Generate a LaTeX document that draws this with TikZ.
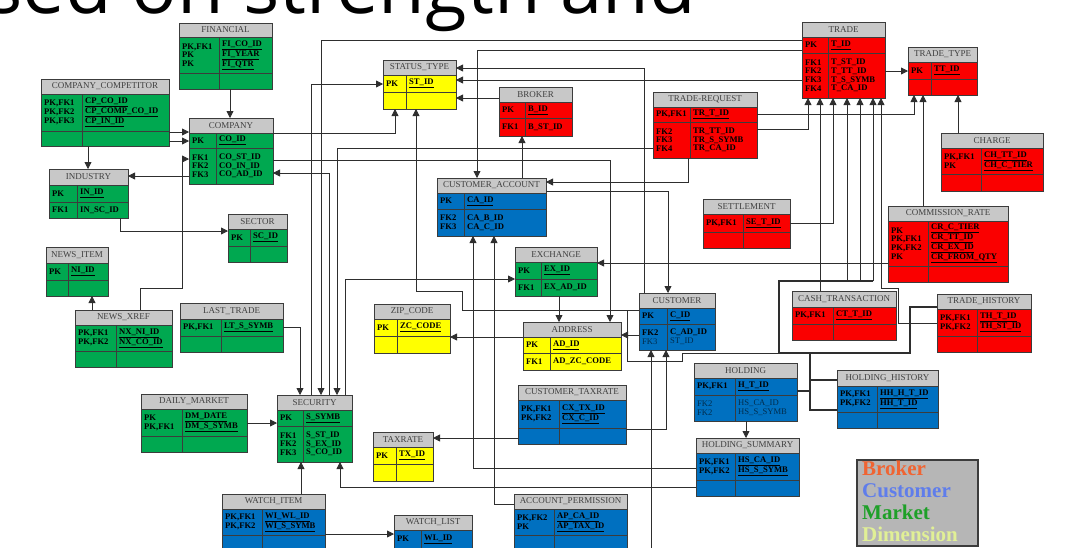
\documentclass[tikz,border=0pt]{standalone}
\usepackage{fontspec}
\setmainfont{Liberation Serif}
\newfontfamily\titlefont{Open Sans}
\usepackage{tikz}
\usetikzlibrary{calc,fit,arrows.meta}

\definecolor{market}{RGB}{0,168,80}
\definecolor{customer}{RGB}{0,112,192}
\definecolor{broker}{RGB}{250,0,0}
\definecolor{dimension}{RGB}{255,255,0}
\definecolor{headgray}{RGB}{200,200,200}
\definecolor{edgegray}{RGB}{60,60,60}
\definecolor{headtxt}{RGB}{64,64,64}
\definecolor{legendgray}{RGB}{182,182,182}
\definecolor{lbroker}{RGB}{240,100,50}
\definecolor{lcustomer}{RGB}{95,125,235}
\definecolor{lmarket}{RGB}{30,160,40}
\definecolor{ldimension}{RGB}{225,240,150}

\tikzset{
	tblbody/.style={inner sep=0pt, outer sep=0pt},
	tblline/.style={draw=edgegray, line width=0.9pt},
	headtext/.style={font=\fontsize{9}{9}\selectfont, text=headtxt, inner sep=0pt},
	keytext/.style={font=\bfseries\fontsize{8.6}{8.7}\selectfont, align=left, anchor=west, inner sep=0pt},
	lightkey/.style={font=\fontsize{8.6}{8.7}\selectfont, text=customer!40!black},
	rel/.style={draw=black!82, line width=0.8pt, -{Triangle[length=7pt,width=7pt]}},
	link/.style={draw=black!82, line width=0.8pt},
	ring/.style={draw=black!82, line width=1.6pt},
}

% name, colour, title, top left, bottom right, title bottom, separator, column
\newcommand{\ertable}[8]{%
	\node[tblbody, fill=#2, fit={#4 #5}] (#1) {};
	\fill[headgray] (#1.north west) rectangle (#1.east |- 0,#6);
	\node[headtext] (#1-title) at ($(#1.north)!0.5!(#1.north |- 0,#6)$) {#3};
	\draw[tblline] (#1.west |- 0,#6) -- (#1.east |- 0,#6);
	\draw[tblline] (#1.west |- 0,#7) -- (#1.east |- 0,#7);
	\draw[tblline] (#8,#6) -- (#1.south -| #8,0);
	\draw[tblline] (#1.north west) rectangle (#1.south east);
	\coordinate (#1-pk) at ($(#8,#6)!0.5!(#8,#7)$);
	\coordinate (#1-fk) at ($(#8,#7)!0.5!(#1.south -| #8,0)$);
}
\newcommand{\erkeys}[5][]{%
	\node[keytext, xshift=3pt, #1] at (#2.west |- #2-#3) {#4};
	\node[keytext, xshift=3pt, #1] at (#2-#3) {#5};
}
\newcommand{\ukey}[1]{\underline{#1}}

\begin{document}
\begin{tikzpicture}[x=1pt,y=-1pt]
	\useasboundingbox (0,0) rectangle (1070,547);
	\clip (0,0) rectangle (1070,547);

	\node[anchor=base west, inner sep=0pt, font=\titlefont\fontsize{76}{76}\selectfont] (headline) at (-14,13) {sed on strength and};

	\ertable{financial}{market}{FINANCIAL}{(179,23)}{(272,89)}{37}{73}{219}
	\erkeys{financial}{pk}{PK,FK1\\PK\\PK}{\ukey{FI\_CO\_ID}\\\ukey{FI\_YEAR}\\\ukey{FI\_QTR}}
	\ertable{compcomp}{market}{COMPANY\_COMPETITOR}{(41,79)}{(169,146)}{94}{131}{82}
	\erkeys{compcomp}{pk}{PK,FK1\\PK,FK2\\PK,FK3}{\ukey{CP\_CO\_ID}\\\ukey{CP\_COMP\_CO\_ID}\\\ukey{CP\_IN\_ID}}
	\ertable{company}{market}{COMPANY}{(189,118)}{(273,184)}{133}{148}{216}
	\erkeys{company}{pk}{PK}{\ukey{CO\_ID}}
	\erkeys{company}{fk}{FK1\\FK2\\FK3}{CO\_ST\_ID\\CO\_IN\_ID\\CO\_AD\_ID}
	\ertable{industry}{market}{INDUSTRY}{(49,169)}{(128,218)}{185}{202}{77}
	\erkeys{industry}{pk}{PK}{\ukey{IN\_ID}}
	\erkeys{industry}{fk}{FK1}{IN\_SC\_ID}
	\ertable{sector}{market}{SECTOR}{(228,214)}{(287,262)}{229}{246}{250}
	\erkeys{sector}{pk}{PK}{\ukey{SC\_ID}}
	\ertable{newsitem}{market}{NEWS\_ITEM}{(46,247)}{(108,296)}{263}{280}{68}
	\erkeys{newsitem}{pk}{PK}{\ukey{NI\_ID}}
	\ertable{newsxref}{market}{NEWS\_XREF}{(75,310)}{(172,367)}{325}{351}{116}
	\erkeys{newsxref}{pk}{PK,FK1\\PK,FK2}{\ukey{NX\_NI\_ID}\\\ukey{NX\_CO\_ID}}
	\ertable{lasttrade}{market}{LAST\_TRADE}{(180,303)}{(283,352)}{319}{336}{221}
	\erkeys{lasttrade}{pk}{PK,FK1}{\ukey{LT\_S\_SYMB}}
	\ertable{dailymarket}{market}{DAILY\_MARKET}{(141,394)}{(247,452)}{409}{436}{182}
	\erkeys{dailymarket}{pk}{PK\\PK,FK1}{\ukey{DM\_DATE}\\\ukey{DM\_S\_SYMB}}
	\ertable{security}{market}{SECURITY}{(277,395)}{(352,462)}{410}{426}{303}
	\erkeys{security}{pk}{PK}{\ukey{S\_SYMB}}
	\erkeys{security}{fk}{FK1\\FK2\\FK3}{S\_ST\_ID\\S\_EX\_ID\\S\_CO\_ID}
	\ertable{watchitem}{customer}{WATCH\_ITEM}{(222,494)}{(325,562)}{509}{535}{262}
	\erkeys{watchitem}{pk}{PK,FK1\\PK,FK2}{\ukey{WI\_WL\_ID}\\\ukey{WI\_S\_SYMB}}
	\ertable{watchlist}{customer}{WATCH\_LIST}{(394,515)}{(472,570)}{530}{548}{421}
	\erkeys{watchlist}{pk}{PK}{\ukey{WL\_ID}}
	\ertable{statustype}{dimension}{STATUS\_TYPE}{(383,60)}{(456,109)}{75}{92}{406}
	\erkeys{statustype}{pk}{PK}{\ukey{ST\_ID}}
	\ertable{broker}{broker}{BROKER}{(499,87)}{(572,136)}{102}{118}{525}
	\erkeys{broker}{pk}{PK}{\ukey{B\_ID}}
	\erkeys{broker}{fk}{FK1}{B\_ST\_ID}
	\ertable{custacct}{customer}{CUSTOMER\_ACCOUNT}{(437,178)}{(546,236)}{193}{209}{464}
	\erkeys{custacct}{pk}{PK}{\ukey{CA\_ID}}
	\erkeys{custacct}{fk}{FK2\\FK3}{CA\_B\_ID\\CA\_C\_ID}
	\ertable{tradereq}{broker}{TRADE-REQUEST}{(653,92)}{(757,158)}{107}{122}{690}
	\erkeys{tradereq}{pk}{PK,FK1}{\ukey{TR\_T\_ID}}
	\erkeys{tradereq}{fk}{FK2\\FK3\\FK4}{TR\_TT\_ID\\TR\_S\_SYMB\\TR\_CA\_ID}
	\ertable{trade}{broker}{TRADE}{(802,22)}{(885,98)}{37}{53}{828}
	\erkeys{trade}{pk}{PK}{\ukey{T\_ID}}
	\erkeys{trade}{fk}{FK1\\FK2\\FK3\\FK4}{T\_ST\_ID\\T\_TT\_ID\\T\_S\_SYMB\\T\_CA\_ID}
	\ertable{tradetype}{broker}{TRADE\_TYPE}{(908,47)}{(977,95)}{62}{79}{931}
	\erkeys{tradetype}{pk}{PK}{\ukey{TT\_ID}}
	\ertable{charge}{broker}{CHARGE}{(941,133)}{(1043,191)}{148}{174}{981}
	\erkeys{charge}{pk}{PK,FK1\\PK}{\ukey{CH\_TT\_ID}\\\ukey{CH\_C\_TIER}}
	\ertable{settlement}{broker}{SETTLEMENT}{(703,199)}{(790,248)}{214}{232}{743}
	\erkeys{settlement}{pk}{PK,FK1}{\ukey{SE\_T\_ID}}
	\ertable{commrate}{broker}{COMMISSION\_RATE}{(888,206)}{(1008,282)}{221}{266}{928}
	\erkeys{commrate}{pk}{PK\\PK,FK1\\PK,FK2\\PK}{\ukey{CR\_C\_TIER}\\\ukey{CR\_TT\_ID}\\\ukey{CR\_EX\_ID}\\\ukey{CR\_FROM\_QTY}}
	\ertable{exchange}{market}{EXCHANGE}{(515,247)}{(597,296)}{262}{279}{541}
	\erkeys{exchange}{pk}{PK}{\ukey{EX\_ID}}
	\erkeys{exchange}{fk}{FK1}{EX\_AD\_ID}
	\ertable{zipcode}{dimension}{ZIP\_CODE}{(374,304)}{(450,353)}{319}{336}{397}
	\erkeys{zipcode}{pk}{PK}{\ukey{ZC\_CODE}}
	\ertable{address}{dimension}{ADDRESS}{(523,322)}{(621,370)}{337}{353}{550}
	\erkeys{address}{pk}{PK}{\ukey{AD\_ID}}
	\erkeys{address}{fk}{FK1}{AD\_ZC\_CODE}
	\ertable{customer}{customer}{CUSTOMER}{(639,293)}{(715,350)}{308}{324}{667}
	\erkeys{customer}{pk}{PK}{\ukey{C\_ID}}
	\erkeys{customer}{fk}{FK2\\\mdseries\color{customer!40!black}FK3}{C\_AD\_ID\\\mdseries\color{customer!40!black}ST\_ID}
	\ertable{cashtrans}{broker}{CASH\_TRANSACTION}{(792,291)}{(896,340)}{307}{324}{833}
	\erkeys{cashtrans}{pk}{PK,FK1}{\ukey{CT\_T\_ID}}
	\ertable{tradehist}{broker}{TRADE\_HISTORY}{(937,294)}{(1031,352)}{309}{336}{977}
	\erkeys{tradehist}{pk}{PK,FK1\\PK,FK2}{\ukey{TH\_T\_ID}\\\ukey{TH\_ST\_ID}}
	\ertable{custtax}{customer}{CUSTOMER\_TAXRATE}{(518,385)}{(626,444)}{400}{428}{559}
	\erkeys{custtax}{pk}{PK,FK1\\PK,FK2}{\ukey{CX\_TX\_ID}\\\ukey{CX\_C\_ID}}
	\ertable{taxrate}{dimension}{TAXRATE}{(373,432)}{(433,481)}{447}{464}{396}
	\erkeys{taxrate}{pk}{PK}{\ukey{TX\_ID}}
	\ertable{accperm}{customer}{ACCOUNT\_PERMISSION}{(514,494)}{(627,562)}{509}{535}{554}
	\erkeys{accperm}{pk}{PK,FK2\\PK}{\ukey{AP\_CA\_ID}\\\ukey{AP\_TAX\_ID}}
	\ertable{holding}{customer}{HOLDING}{(694,363)}{(797,421)}{378}{395}{735}
	\erkeys{holding}{pk}{PK,FK1}{\ukey{H\_T\_ID}}
	\erkeys[lightkey]{holding}{fk}{FK2\\FK2}{HS\_CA\_ID\\HS\_S\_SYMB}
	\ertable{holdhist}{customer}{HOLDING\_HISTORY}{(837,370)}{(938,428)}{386}{412}{877}
	\erkeys{holdhist}{pk}{PK,FK1\\PK,FK2}{\ukey{HH\_H\_T\_ID}\\\ukey{HH\_T\_ID}}
	\ertable{holdsum}{customer}{HOLDING\_SUMMARY}{(696,438)}{(799,496)}{453}{480}{735}
	\erkeys{holdsum}{pk}{PK,FK1\\PK,FK2}{\ukey{HS\_CA\_ID}\\\ukey{HS\_S\_SYMB}}

	\node[tblbody, draw=edgegray, line width=1.2pt, fill=legendgray, fit={(857,460) (978,546)}] (legend) {};
	\node[anchor=north west, align=left, inner sep=0pt, font=\bfseries\fontsize{21}{22}\selectfont] (legendtext) at ([shift={(5,1)}]legend.north west)
		{\textcolor{lbroker}{Broker}\\\textcolor{lcustomer}{Customer}\\\textcolor{lmarket}{Market}\\\textcolor{ldimension}{Dimension}};

	\draw[rel] (financial.south -| 230,0) -- (company.north -| 230,0);
	\draw[rel] (compcomp.east |- 0,132) -- (company.west |- 0,132);
	\draw[rel] (compcomp.east |- 0,141) -- (company.west |- 0,141);
	\draw[rel] (compcomp.south -| 88,0) -- (industry.north -| 88,0);
	\draw[rel] (company.west |- 0,176) -- (industry.east |- 0,176);
	\draw[rel] (newsxref.north -| 140,0) |- (182,288) |- (company.west |- 0,159);
	\draw[rel] (industry.south -| 120,0) |- (sector.west |- 0,231);
	\draw[rel] (newsxref.north -| 92,0) -- (newsitem.south -| 92,0);
	\draw[rel] (lasttrade.east |- 0,327) -| (security.north -| 300,0);
	\draw[rel] (security.north -| 311,0) |- (statustype.west |- 0,84);
	\draw[rel] (trade.west |- 0,40) -| (security.north -| 321,0);
	\draw[rel] (security.north -| 329,0) |- (company.east |- 0,173);
	\draw[rel] (tradereq.west |- 0,148) -| (security.north -| 337,0);
	\draw[rel] (security.north -| 345,0) |- (exchange.west |- 0,279);
	\draw[rel] (dailymarket.east |- 0,423) -- (security.west |- 0,423);
	\draw[rel] (watchitem.north -| 301,0) -- (security.south -| 301,0);
	\draw[rel] (holdsum.west |- 0,487) -| (security.south -| 340,0);
	\draw[rel] (holdsum.west |- 0,468) -| (custacct.south -| 473,0);
	\draw[rel] (accperm.west |- 0,504) -| (custacct.south -| 494,0);
	\draw[rel] (watchitem.east |- 0,534) -- (watchlist.west |- 0,534);
	\draw[rel] (custtax.west |- 0,438) -- (taxrate.east |- 0,438);
	\draw[rel] (custtax.east |- 0,429) -| (customer.south -| 666,0);
	\coordinate (offbottom) at (651,560);
	\draw[rel] (offbottom) -- (customer.south -| 651,0);
	\draw[rel] (address.west |- 0,337) -- (zipcode.east |- 0,337);
	\draw[rel] (exchange.south -| 559,0) -- (address.north -| 559,0);
	\draw[rel] (company.east |- 0,160) -| (address.north -| 610,0);
	\draw[rel] (customer.west |- 0,335) -- (address.east |- 0,335);
	\draw[rel] (company.east |- 0,133) -| (statustype.south -| 395,0);
	\draw[rel] (customer.west |- 0,310) -| (462,291) -| (statustype.south -| 416,0);
	\draw[rel] (broker.west |- 0,98) -- (statustype.east |- 0,98);
	\draw[rel] (customer.north -| 644,0) |- (statustype.east |- 0,68);
	\draw[rel] (trade.west |- 0,80) -- (statustype.east |- 0,80);
	\draw[rel] (trade.west |- 0,50) -| (custacct.north -| 477,0);
	\draw[rel] (custacct.north -| 522,0) -- (broker.south -| 522,0);
	\draw[rel] (tradereq.south -| 688,0) |- (custacct.east |- 0,182);
	\draw[rel] (custacct.east |- 0,191) -| (customer.north -| 668,0);
	\draw[rel] (tradereq.east |- 0,129) -| (trade.south -| 808,0);
	\draw[rel] (tradereq.east |- 0,114) -| (tradetype.south -| 914,0);
	\draw[rel] (trade.east |- 0,71) -- (tradetype.west |- 0,71);
	\draw[rel] (charge.north -| 958,0) -- (tradetype.south -| 958,0);
	\draw[rel] (commrate.north -| 923,0) -- (tradetype.south -| 923,0);
	\draw[rel] (commrate.west |- 0,263) -- (exchange.east |- 0,263);
	\draw[rel] (settlement.east |- 0,223) -| (trade.south -| 833,0);
	\draw[rel] (cashtrans.north -| 820,0) -- (trade.south -| 820,0);
	\draw[rel] (tradehist.west |- 0,323) -| (898,288) -| (trade.south -| 881,0);

	\coordinate (ringnw) at (779,281);
	\coordinate (ringne) at (873,281);
	\coordinate (ringsw) at (779,353);
	\coordinate (ringse) at (910,353);
	\coordinate (ringjoin) at (810,353);
	\coordinate (custjoin) at (682,353);
	\foreach \x in {847,860,873}
		\draw[rel] (ringne -| \x,0) -- (trade.south -| \x,0);
	\draw[ring] (ringne) -- (ringnw) -- (ringsw) -- (ringse) |- (tradehist.west |- 0,307);
	\draw[link] (ringsw) -- (custjoin) -- ++(0,8) -| (627,310);
	\draw[link, line width=1.2pt] (ringjoin) |- (holdhist.west |- 0,410);
	\draw[link, line width=1.2pt] (holding.east |- 0,391) -- (ringjoin |- 0,391);
	\draw[link, line width=1.2pt] (ringjoin |- 0,380) -- (holdhist.west |- 0,380);
	\draw[rel] (holding.south -| 746,0) -- (holdsum.north -| 746,0);
\end{tikzpicture}
\end{document}
